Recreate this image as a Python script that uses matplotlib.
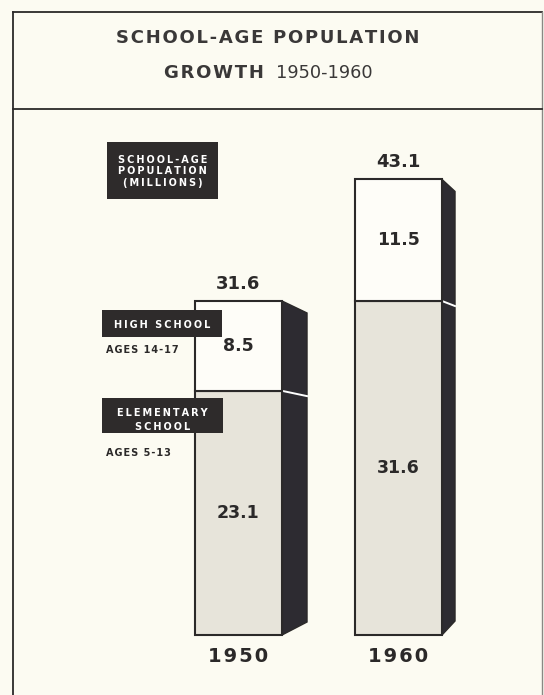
import matplotlib.pyplot as plt
from matplotlib.patches import Polygon, Rectangle
import numpy as np

# data (millions of school-age children)
years = ['1950', '1960']
elementary = [23.1, 31.6]
high_school = [8.5, 11.5]
totals = [31.6, 43.1]

W, H = 544, 695
paper = '#fcfbf2'
ink = '#2b2929'
side_col = '#2d2b31'
elem_col = '#e7e4da'
hs_col = '#fefdf8'
title_col = '#3a3838'


def spaced(s, sep='\u200a'):
    return sep.join(s)


fig = plt.figure(figsize=(W / 100, H / 100), dpi=100, facecolor=paper)

# ---- bar axes (value axis scaled so 0 sits on the base line) ----
base_px, px_per_unit = 635, 10.57
x0_px, step_px = 238.5, 160
ax = fig.add_axes([0, 0, 1, 1], zorder=2)
ax.set_xlim(-x0_px / step_px, (W - x0_px) / step_px)
ax.set_ylim(-(H - base_px) / px_per_unit, base_px / px_per_unit)
ax.axis('off')

x = np.arange(len(years))
width = 0.544
ax.bar(x, elementary, width, color=elem_col, edgecolor=ink, lw=1.5, zorder=3)
ax.bar(x, high_school, width, bottom=elementary, color=hs_col,
       edgecolor=ink, lw=1.5, zorder=3)

# dark side faces in perspective
depth_px = [25, 13]
top_drop_px = [12, 12]
bottom_rise_px = [13, 14]
for i in range(len(years)):
    xl = x[i] + width / 2
    xr = xl + depth_px[i] / step_px
    top_r = totals[i] - top_drop_px[i] / px_per_unit
    bot_r = bottom_rise_px[i] / px_per_unit

    def right_y(v):
        return bot_r + v * (top_r - bot_r) / totals[i]

    ax.add_patch(Polygon([(xl, 0), (xr, bot_r), (xr, top_r), (xl, totals[i])],
                         closed=True, facecolor=side_col, edgecolor=ink,
                         lw=1.0, zorder=2))
    ax.plot([xl, xr], [elementary[i], right_y(elementary[i])],
            color='white', lw=1.4, zorder=2.5)

    ax.text(x[i], totals[i] + 17 / px_per_unit, totals[i], ha='center',
            va='center', fontsize=13, fontweight='bold', color=ink)
    ax.text(x[i], elementary[i] + high_school[i] / 2, high_school[i],
            ha='center', va='center', fontsize=12.5, fontweight='bold', color=ink)
    ax.text(x[i], elementary[i] / 2, elementary[i], ha='center', va='center',
            fontsize=12.5, fontweight='bold', color=ink)
    ax.text(x[i], -22 / px_per_unit, spaced(years[i]), ha='center',
            va='center', fontsize=14, fontweight='bold', color=ink)

# ---- frame, title and key boxes in pixel coordinates ----
deco = fig.add_axes([0, 0, 1, 1], zorder=3)
deco.set_xlim(0, W)
deco.set_ylim(H, 0)
deco.axis('off')
deco.patch.set_alpha(0)

deco.plot([13, 13], [12, H], color=ink, lw=1.3)
deco.plot([13, 542], [12, 12], color=ink, lw=1.3)
deco.plot([542, 542], [12, H], color='#8a8884', lw=1.0)
deco.plot([13, 542], [109, 109], color=ink, lw=1.3)

deco.text(268, 38, spaced('SCHOOL-AGE POPULATION'), ha='center', va='center',
          fontsize=13, fontweight='bold', color=title_col)
deco.text(264, 73, spaced('GROWTH'), ha='right', va='center',
          fontsize=13, fontweight='bold', color=title_col)
deco.text(276, 73, '1950-1960', ha='left', va='center',
          fontsize=12.8, color=title_col)

key_boxes = [
    ((107, 142, 111, 57), 'SCHOOL-AGE\nPOPULATION\n(MILLIONS)', 1.2, 1),
    ((102, 310, 120, 27), 'HIGH SCHOOL', 1.0, 1),
    ((102, 398, 121, 35), 'ELEMENTARY\nSCHOOL', 1.5, 4),
]
for (bx, by, bw, bh), label, ls, dy in key_boxes:
    deco.add_patch(Rectangle((bx, by), bw, bh, facecolor='#2e2b2b',
                             edgecolor='none'))
    txt = '\n'.join(spaced(line, '\u2009') for line in label.split('\n'))
    deco.text(bx + bw / 2, by + bh / 2 + dy, txt, ha='center', va='center',
              fontsize=7, fontweight='bold', color='white', linespacing=ls)

deco.text(106, 350, spaced('AGES 14-17'), ha='left', va='center',
          fontsize=7, fontweight='bold', color=ink)
deco.text(106, 453, spaced('AGES 5-13'), ha='left', va='center',
          fontsize=7, fontweight='bold', color=ink)

fig.savefig('out.png', dpi=100, facecolor=paper)
